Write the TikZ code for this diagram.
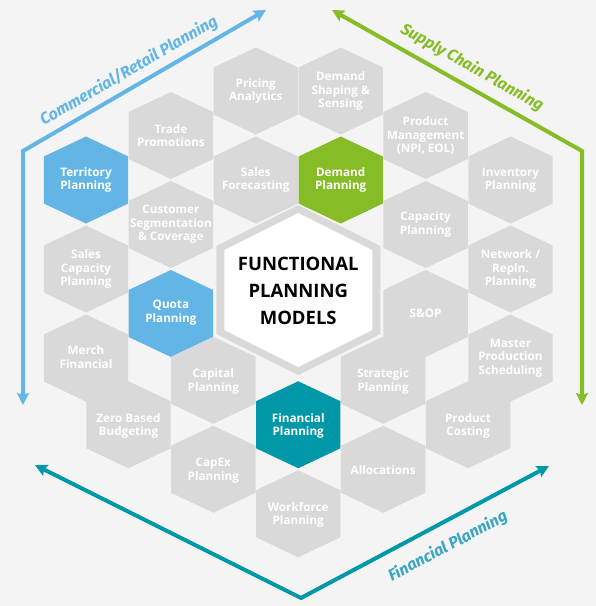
\documentclass[tikz,border=0pt]{standalone}
\usepackage{fontspec}
\setmainfont{Open Sans}
\newfontfamily\arrowfont{Fira Sans}
\usetikzlibrary{arrows.meta}
\definecolor{bgc}{HTML}{F4F4F4}
\definecolor{hexg}{HTML}{D9D9D9}
\definecolor{dblue}{HTML}{62B5E5}
\definecolor{dgreen}{HTML}{86BC25}
\definecolor{dteal}{HTML}{0097A9}
\definecolor{tealtxt}{HTML}{3AA6C2}
\newcommand\hexfill[3]{\fill[#1] (#2,#3) ++(0,-43.5) -- ++(42.2,20) -- ++(0,47) -- ++(-42.2,20) -- ++(-42.2,-20) -- ++(0,-47) -- cycle;}
\tikzset{
  lbl/.style={text=white, font=\bfseries\fontsize{11.7}{13.4}\selectfont, align=center, inner sep=0pt},
  tipk/.tip={Stealth[length=12pt,width=12pt,inset=2pt]},
  flow/.style={line width=4pt, tipk-tipk},
  flowlbl/.style={font=\arrowfont\bfseries\itshape\fontsize{16}{18}\selectfont, inner sep=0pt}
}
\begin{document}
\begin{tikzpicture}[x=1pt,y=-1pt]
\fill[bgc] (0,0) rectangle (596,606);
\useasboundingbox (0,0) rectangle (596,606);

% hexagons
\hexfill{hexg}{255.8}{91}
\hexfill{hexg}{340.7}{91}
\hexfill{hexg}{170.9}{135.5}
\hexfill{hexg}{425.6}{135.5}
\hexfill{dblue}{86}{180}
\hexfill{hexg}{255.8}{180}
\hexfill{dgreen}{340.7}{180}
\hexfill{hexg}{510.5}{180}
\hexfill{hexg}{170.9}{224.5}
\hexfill{hexg}{425.6}{224.5}
\hexfill{hexg}{86}{269}
\hexfill{hexg}{510.5}{269}
\hexfill{dblue}{170.9}{313.5}
\hexfill{hexg}{425.6}{313.5}
\hexfill{hexg}{86}{358}
\hexfill{hexg}{510.5}{358}
\hexfill{hexg}{213.35}{380.25}
\hexfill{hexg}{383.15}{380.25}
\hexfill{hexg}{128.45}{424.75}
\hexfill{dteal}{298.25}{424.75}
\hexfill{hexg}{468.05}{424.75}
\hexfill{hexg}{213.35}{469.25}
\hexfill{hexg}{383.15}{469.25}
\hexfill{hexg}{298.25}{513.75}

% central hexagon
\fill[hexg] (298.25,290) ++(0,-85) -- ++(82,41) -- ++(0,88) -- ++(-82,41) -- ++(-82,-41) -- ++(0,-88) -- cycle;
\fill[white] (298.25,290) ++(0,-77) -- ++(74,37) -- ++(0,80) -- ++(-74,37) -- ++(-74,-37) -- ++(0,-80) -- cycle;
\node[font=\bfseries\fontsize{18.5}{27}\selectfont, align=center, text=black, inner sep=0pt] (center) at (298.25,290.5) {FUNCTIONAL\\PLANNING\\MODELS};

% labels
\node[lbl] (pricing) at (255.8,91) {Pricing\\Analytics};
\node[lbl] (dshape) at (340.7,91) {Demand\\Shaping \&\\Sensing};
\node[lbl] (trade) at (170.9,135.5) {Trade\\Promotions};
\node[lbl] (prodmgmt) at (425.6,135.5) {Product\\Management\\(NPI, EOL)};
\node[lbl] (territory) at (86,180) {Territory\\Planning};
\node[lbl] (salesfc) at (255.8,180) {Sales\\Forecasting};
\node[lbl] (dplan) at (340.7,180) {Demand\\Planning};
\node[lbl] (inventory) at (510.5,180) {Inventory\\Planning};
\node[lbl] (custseg) at (170.9,224.5) {Customer\\Segmentation\\\& Coverage};
\node[lbl] (capacity) at (425.6,224.5) {Capacity\\Planning};
\node[lbl] (salescap) at (86,269) {Sales\\Capacity\\Planning};
\node[lbl] (network) at (510.5,269) {Network /\\Repln.\\Planning};
\node[lbl] (quota) at (170.9,312.5) {Quota\\Planning};
\node[lbl] (sop) at (425.6,313.5) {S\&OP};
\node[lbl] (merch) at (86,357) {Merch\\Financial};
\node[lbl] (mps) at (510.5,358) {Master\\Production\\Scheduling};
\node[lbl] (capital) at (213.35,381.5) {Capital\\Planning};
\node[lbl] (strategic) at (383.15,381.5) {Strategic\\Planning};
\node[lbl] (zbb) at (128.45,426) {Zero Based\\Budgeting};
\node[lbl] (finplan) at (298.25,426) {Financial\\Planning};
\node[lbl] (prodcost) at (468.05,426) {Product\\Costing};
\node[lbl] (capex) at (213.35,470.5) {CapEx\\Planning};
\node[lbl] (alloc) at (383.15,470.5) {Allocations};
\node[lbl] (workforce) at (298.25,515) {Workforce\\Planning};

% flow arrows
\coordinate (bA) at (266,10);
\coordinate (bB) at (23,151);
\coordinate (bC) at (23,405);
\coordinate (gA) at (332,10);
\coordinate (gB) at (582,151);
\coordinate (gC) at (582,405);
\coordinate (tA) at (35,465);
\coordinate (tB) at (301,598);
\coordinate (tC) at (549,466);
\draw[flow, dblue] (bA) -- (bB) -- (bC);
\draw[flow, dgreen] (gA) -- (gB) -- (gC);
\draw[flow, dteal] (tA) -- (tB) -- (tC);

\node[flowlbl, text=dblue, rotate=30.1] (lcomm) at (129,71) {Commercial/Retail Planning};
\node[flowlbl, text=dgreen, rotate=-29.4] (lsupply) at (472,67.5) {Supply Chain Planning};
\node[flowlbl, text=tealtxt, rotate=28] (lfin) at (448,546.5) {Financial Planning};
\end{tikzpicture}
\end{document}
